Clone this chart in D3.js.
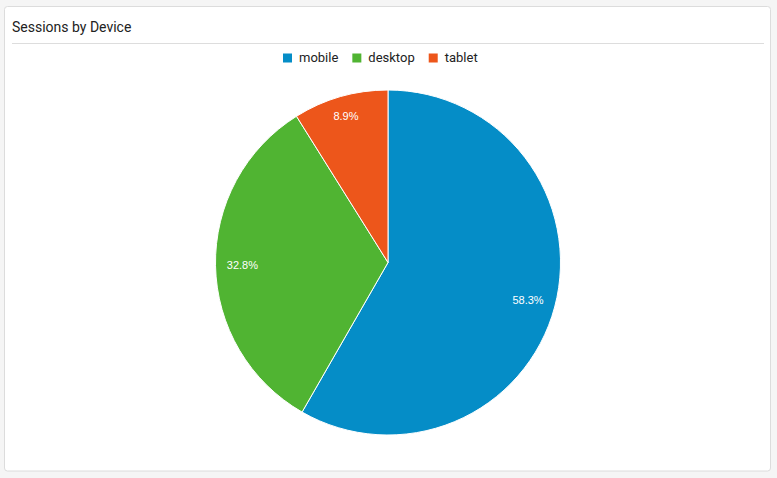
<!DOCTYPE html>
<html>
<head>
<meta charset="utf-8">
<script src="https://cdn.jsdelivr.net/npm/d3@7"></script>
<style>
  html, body { margin: 0; padding: 0; background: #f5f5f5; }
  svg { display: block; }
</style>
</head>
<body>
<svg id="chart"></svg>
<script>
const devices = ["mobile", "desktop", "tablet"];
const sessions = [58.3, 32.8, 8.9];
const colors = ["#058dc7", "#50b432", "#ed561b"];

const width = 777, height = 478;
const cx = 388, cy = 262.5, radius = 172.5;

const svg = d3.select("#chart")
  .attr("width", width)
  .attr("height", height);

// card
svg.append("rect")
  .attr("x", 4.5).attr("y", 6.5)
  .attr("width", 766).attr("height", 464.5)
  .attr("rx", 3)
  .attr("fill", "#fff")
  .attr("stroke", "#dcdcdc");

svg.append("text")
  .attr("x", 12).attr("y", 31.5)
  .attr("font-family", "Roboto")
  .attr("font-size", 14)
  .attr("fill", "#222")
  .text("Sessions by Device");

svg.append("line")
  .attr("x1", 12).attr("x2", 764)
  .attr("y1", 43.5).attr("y2", 43.5)
  .attr("stroke", "#ddd");

// legend
const legend = svg.append("g").attr("transform", "translate(283,0)");
let lx = 0;
devices.forEach((name, i) => {
  const item = legend.append("g").attr("transform", `translate(${lx},0)`);
  item.append("rect")
    .attr("x", 0).attr("y", 53.5)
    .attr("width", 9).attr("height", 9)
    .attr("fill", colors[i]);
  const t = item.append("text")
    .attr("x", 16).attr("y", 62)
    .attr("font-family", "Roboto")
    .attr("font-size", 13)
    .attr("fill", "#222")
    .text(name);
  lx += 16 + t.node().getComputedTextLength() + 14;
});

// pie
const total = d3.sum(sessions);
const pie = d3.pie().sort(null).value(d => d);
const arcs = pie(sessions);
const arc = d3.arc().innerRadius(0).outerRadius(radius);

const g = svg.append("g").attr("transform", `translate(${cx},${cy})`);

g.selectAll("path")
  .data(arcs)
  .join("path")
    .attr("d", arc)
    .attr("fill", (d, i) => colors[i])
    .attr("stroke", "#fff")
    .attr("stroke-width", 1);

// labels: outer corner of text box sits on labelR
const labelR = radius * 0.936;
const fmt = d3.format(".1%");
g.selectAll("text.label")
  .data(arcs)
  .join("text")
    .attr("class", "label")
    .attr("font-family", "Arial, 'Liberation Sans'")
    .attr("font-size", 11)
    .attr("fill", "#fff")
    .attr("text-anchor", "middle")
    .attr("dominant-baseline", "central")
    .text(d => fmt(d.value / total))
    .each(function(d) {
      const a = (d.startAngle + d.endAngle) / 2;
      const ux = Math.sin(a), uy = -Math.cos(a);
      const w = this.getComputedTextLength(), h = 11;
      const c = [Math.sign(ux) * w / 2, Math.sign(uy) * h / 2];
      const uc = ux * c[0] + uy * c[1];
      const cc = c[0] * c[0] + c[1] * c[1];
      const dist = -uc + Math.sqrt(uc * uc - cc + labelR * labelR);
      d3.select(this).attr("x", ux * dist).attr("y", uy * dist);
    });
</script>
</body>
</html>
